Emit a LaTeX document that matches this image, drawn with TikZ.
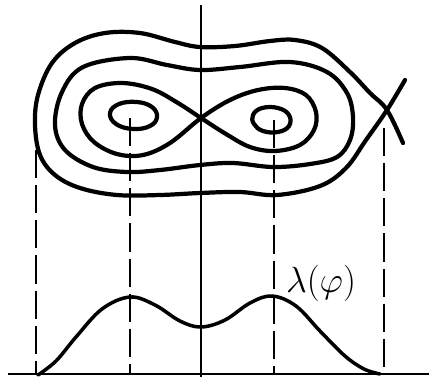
\documentclass[tikz,border=0pt]{standalone}
\usetikzlibrary{calc}

\begin{document}
\begin{tikzpicture}[
    x=0.02cm, y=-0.02cm,
    contour/.style={line width=2.4pt, line join=round, line cap=round},
    axisline/.style={line width=1.5pt},
    dropline/.style={line width=0.9pt, dash pattern=on 16pt off 4pt},
    lamcurve/.style={line width=2pt, line cap=round},
]
\useasboundingbox (0,0) rectangle (429,380);

% --- level curves ---
\draw[contour] plot[smooth cycle, tension=0.7] coordinates {
    (110,113) (119,104) (137,102) (152,107) (157,117)
    (150,126) (133,129) (116,124)};
\draw[contour] plot[smooth cycle, tension=0.7] coordinates {
    (253,115) (262,108) (278,108) (289,115) (289,126)
    (278,132) (263,131) (254,124)};

% separatrix through the saddle
\draw[contour] plot[smooth cycle, tension=0.6] coordinates {
    (201,118) (178,103) (152,89) (122,83) (95,88) (82,104)
    (82,124) (94,142) (117,154) (143,155) (170,143)
    (201,118) (230,100) (258,90) (285,88) (306,95) (316,112)
    (314,130) (300,145) (275,151) (250,147) (226,134)};

\draw[contour] plot[smooth cycle, tension=0.6] coordinates {
    (55,125) (62,92) (83,67) (130,58) (167,65) (200,70) (240,67)
    (290,62) (327,72) (347,93) (353,117) (350,140) (337,157)
    (310,164) (273,167) (233,163) (200,165) (160,170) (127,172)
    (93,167) (65,150)};

% outer curve with the crossing on the right
\draw[contour] plot[smooth, tension=0.6] coordinates {
    (405,80) (387,110) (366,140) (346,168) (320,186) (277,195)
    (240,192) (200,193) (160,195) (117,195) (80,188) (55,175)
    (40,155) (35,125) (38,95) (52,63) (75,43) (105,33) (140,33)
    (175,42) (200,47) (235,46) (270,41) (295,40) (322,48)
    (350,72) (370,93) (387,110) (403,143)};

% --- axes ---
\coordinate (ax-l) at (8,374);
\coordinate (ax-r) at (429,374);
\coordinate (mid-top) at (201,5);
\coordinate (mid-bot) at (201,377);
\draw[axisline] (ax-l) -- (ax-r);
\draw[axisline] (mid-top) -- (mid-bot);

% --- drop lines ---
\coordinate (edge-l) at (36,150);
\coordinate (min-l) at (130,118);
\coordinate (min-r) at (274,120);
\coordinate (cross-r) at (384,128);
\foreach \p in {edge-l, min-l, min-r, cross-r}
    \draw[dropline] (\p) -- (\p |- ax-l);

% --- lambda(phi) ---
\draw[lamcurve] plot[smooth, tension=0.6] coordinates {
    (38,375) (56,361) (76,337) (102,309) (130,297) (155,305)
    (180,321) (201,327) (225,320) (250,303) (272,296) (296,306)
    (320,331) (345,356) (364,369) (380,374)};
\node[font=\huge] (lam-label) at (321,283) {$\lambda(\varphi)$};
\end{tikzpicture}
\end{document}
